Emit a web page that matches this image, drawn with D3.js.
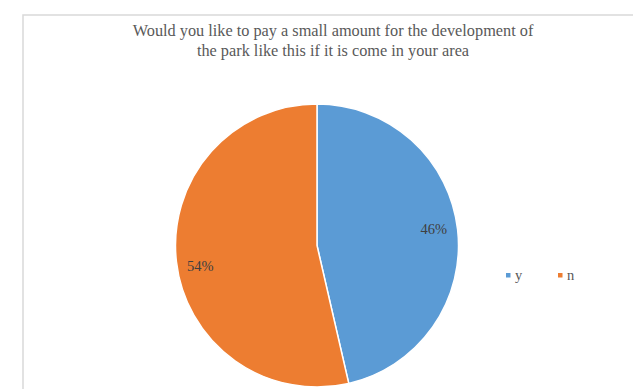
<!DOCTYPE html>
<html><head><meta charset="utf-8">
<script src="https://cdn.jsdelivr.net/npm/d3@7"></script>
<style>html,body{margin:0;padding:0;background:#fff;}svg{display:block;} svg text{font-family:"Liberation Serif","Times New Roman",serif;}</style>
</head><body>
<svg id="chart" width="633" height="389"></svg>
<script>
const categories = ["y", "n"];
const values = [46.4, 53.6];
const colors = ["#5b9bd5", "#ed7d31"];
const titleLines = ["Would you like to pay a small amount for the development of", "the park like this if it is come in your area"];

const svg = d3.select("#chart");

svg.append("rect").attr("x", 23).attr("y", 15).attr("width", 700).attr("height", 500)
  .attr("fill", "#fff").attr("stroke", "#d9d9d9").attr("stroke-width", 1.5);

const title = svg.append("text").attr("text-anchor", "middle")
  .attr("font-size", 16.3).attr("fill", "#595959");
titleLines.forEach((t, i) => {
  title.append("tspan").attr("x", 333).attr("y", 36 + i * 20).text(t);
});

const cx = 317, cy = 245.5, r = 141.5;
const pie = d3.pie().sort(null).value(d => d)(values);
const arc = d3.arc().innerRadius(0).outerRadius(r);
const g = svg.append("g").attr("transform", `translate(${cx},${cy})`);
g.selectAll("path").data(pie).join("path")
  .attr("d", arc)
  .attr("fill", (d, i) => colors[i])
  .attr("stroke", "#fff").attr("stroke-width", 1.5);

const labelArc = d3.arc().innerRadius(r * 0.83).outerRadius(r * 0.83);
const labelShift = [-3.5, 7];
const total = d3.sum(values);
g.selectAll("text.lbl").data(pie).join("text")
  .attr("class", "lbl")
  .attr("transform", (d, i) => { const c = labelArc.centroid(d); return `translate(${c[0]},${c[1] + labelShift[i]})`; })
  .attr("text-anchor", "middle").attr("dy", "0.35em")
  .attr("font-size", 14.5).attr("fill", "#404040")
  .text(d => Math.round(d.data / total * 100) + "%");

const legend = svg.append("g");
const lx = [506, 558];
categories.forEach((c, i) => {
  legend.append("rect").attr("x", lx[i]).attr("y", 273).attr("width", 4.5).attr("height", 4.5).attr("fill", colors[i]);
  legend.append("text").attr("x", lx[i] + 9).attr("y", 280)
    .attr("font-size", 14.5).attr("fill", "#595959").text(c);
});
</script>
</body></html>
